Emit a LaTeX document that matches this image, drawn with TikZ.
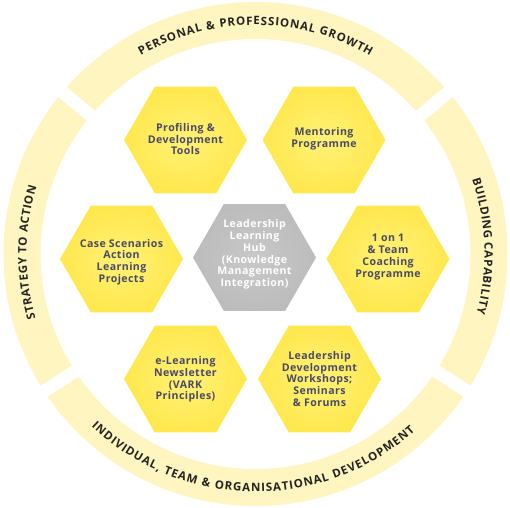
\documentclass[tikz,border=0pt]{standalone}
\usepackage{fontspec}
\setmainfont{Open Sans}
\newfontfamily\hexfont[LetterSpace=4]{Open Sans}
\newfontfamily\ringfont{Open Sans}
\usetikzlibrary{decorations.text}
\definecolor{ringcol}{RGB}{255,245,192}
\definecolor{hexin}{RGB}{255,241,118}
\definecolor{hexout}{RGB}{255,232,78}
\definecolor{hubin}{RGB}{200,200,200}
\definecolor{hubout}{RGB}{188,188,188}
\definecolor{hextxt}{RGB}{72,74,104}
\definecolor{ringtxt}{RGB}{35,35,35}
\newcommand{\hexpath}[2]{(#1,#2) +(0:61.5pt) -- +(60:61.5pt) -- +(120:61.5pt) -- +(180:61.5pt) -- +(240:61.5pt) -- +(300:61.5pt) -- cycle}
\tikzset{
  yhexfill/.style={inner color=hexin, outer color=hexout},
  ghexfill/.style={inner color=hubin, outer color=hubout},
  hexlabel/.style={align=center, inner sep=0pt, font=\hexfont\bfseries\fontsize{10.6}{11.8}\selectfont},
  ylabel/.style={hexlabel, text=hextxt},
  glabel/.style={hexlabel, text=white},
  gapline/.style={draw=white, line width=13pt},
  ringtext/.style={decorate, decoration={text along path, text align={fit to path}, text color=ringtxt}}
}
\begin{document}
\begin{tikzpicture}[x=1pt,y=1pt]
\useasboundingbox (0,0) rectangle (510,507);
\coordinate (C) at (255.5,253);
% ring
\fill[ringcol, even odd rule] (C) circle[radius=252pt] (C) circle[radius=215pt];
\foreach \a in {40,140,213,327} {
  \draw[gapline] (C) ++(\a:205pt) -- ++(\a:60pt);
}
% ring texts
\path[ringtext, decoration={text={|\ringfont\bfseries\fontsize{11.5}{12}\selectfont|PERSONAL {\&} PROFESSIONAL GROWTH}}]
  (C) ++(120:229pt) arc[start angle=120, end angle=60, radius=229pt];
\path[ringtext, decoration={text={|\ringfont\bfseries\fontsize{11.5}{12}\selectfont|BUILDING CAPABILITY}}]
  (C) ++(19:229pt) arc[start angle=19, end angle=-15, radius=229pt];
\path[ringtext, decoration={text={|\ringfont\bfseries\fontsize{11.5}{12}\selectfont|STRATEGY TO ACTION}}]
  (C) ++(196.3:229pt) arc[start angle=196.3, end angle=162.9, radius=229pt];
\path[ringtext, decoration={text={|\ringfont\bfseries\fontsize{11.5}{12}\selectfont|INDIVIDUAL, TEAM {\&} ORGANISATIONAL DEVELOPMENT}}]
  (C) ++(226.4:238pt) arc[start angle=226.4, end angle=312, radius=238pt];
% hexagons
\shade[yhexfill] \hexpath{185.5}{367};
\shade[yhexfill] \hexpath{324}{367};
\shade[yhexfill] \hexpath{121.5}{248};
\shade[ghexfill] \hexpath{254.5}{249.5};
\shade[yhexfill] \hexpath{388}{248};
\shade[yhexfill] \hexpath{185.5}{128};
\shade[yhexfill] \hexpath{319.5}{128};
% labels
\node[ylabel] (prof) at (185.5,368) {Profiling \&\\Development\\Tools};
\node[ylabel] (ment) at (324,368) {Mentoring\\Programme};
\node[ylabel] (case) at (121.5,245) {Case Scenarios\\Action\\Learning\\Projects};
\node[glabel] (hub) at (254.5,252.5) {Leadership\\Learning\\Hub\\(Knowledge\\Management\\Integration)};
\node[ylabel] (one) at (388,250) {1 on 1\\\& Team\\Coaching\\Programme};
\node[ylabel] (elearn) at (185.5,127.5) {e-Learning\\Newsletter\\(VARK\\Principles)};
\node[ylabel] (lead) at (319.5,128) {Leadership\\Development\\Workshops;\\Seminars\\\& Forums};
\end{tikzpicture}
\end{document}
